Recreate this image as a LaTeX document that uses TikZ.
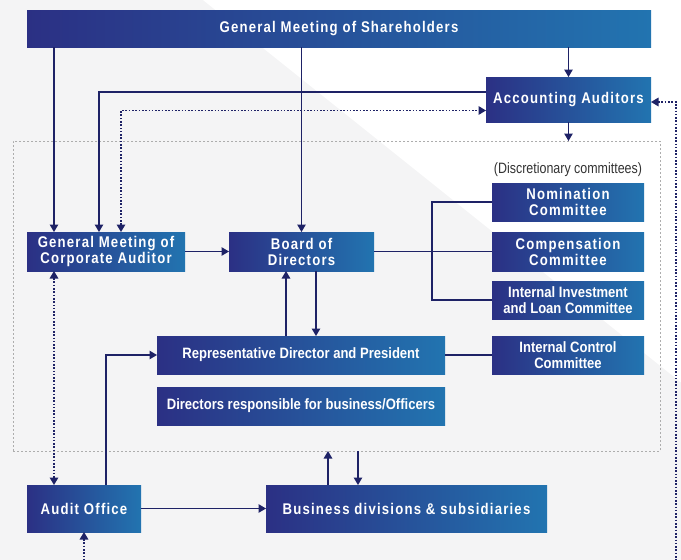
\documentclass[tikz,border=0pt]{standalone}
\usepackage{fontspec}
\setmainfont{Liberation Sans}
\newfontfamily\spfont{Liberation Sans}[FakeStretch=0.85,LetterSpace=7.7]
\newfontfamily\tgfont{Liberation Sans}[FakeStretch=0.87]
\newfontfamily\dcfont{Liberation Sans}[FakeStretch=0.83]
\usetikzlibrary{arrows.meta,calc}
\definecolor{boxL}{HTML}{2B3084}
\definecolor{boxR}{HTML}{2274B0}
\definecolor{navy}{HTML}{1E2266}
\definecolor{bggray}{HTML}{F4F4F5}
\definecolor{framec}{HTML}{ADADAD}
\definecolor{txtgray}{HTML}{333333}
\begin{document}
\begin{tikzpicture}[x=1pt,y=-1pt,
  box/.style={draw=none, left color=boxL, right color=boxR, text=white, align=center, inner sep=0pt, outer sep=0pt},
  spaced/.style={font=\spfont\bfseries\fontsize{15.5}{16}\selectfont},
  tight/.style={font=\tgfont\bfseries\fontsize{15}{15.5}\selectfont},
  conn/.style={draw=navy, line width=1.2pt},
  arr/.style={conn, -{Triangle[length=7.5pt,width=8.5pt]}},
  dotl/.style={draw=navy, line width=1.5pt, dash pattern=on 1.6pt off 1.7pt},
  darr/.style={dotl, {Triangle[length=7.5pt,width=8.5pt]}-{Triangle[length=7.5pt,width=8.5pt]}},
  dstart/.style={dotl, {Triangle[length=7.5pt,width=8.5pt]}-},
  grpbox/.style={draw=framec, line width=0.8pt, dash pattern=on 2pt off 2pt, inner sep=0pt, outer sep=0pt},
]
\fill[bggray] (0,0) rectangle (681,560);
\fill[white] (203,0) -- (681,0) -- (681,382.4) -- cycle;
\useasboundingbox (0,0) rectangle (681,560);

\node[grpbox, minimum width=647pt, minimum height=310pt] (grp) at (336.5,296) {};

\node[box, spaced, minimum width=624pt, minimum height=37pt] (gms) at (339,28.5) {General Meeting of Shareholders};
\node[box, spaced, minimum width=165pt, minimum height=45pt] (acc) at (568.5,99.5) {Accounting Auditors};
\node[box, spaced, minimum width=158pt, minimum height=39pt] (gmca) at (106,251.5) {General Meeting of\\Corporate Auditor};
\node[box, spaced, minimum width=145pt, minimum height=39pt] (bod) at (301.5,251.5) {Board of\\Directors};
\node[font=\dcfont\fontsize{15}{15.5}\selectfont, text=txtgray, inner sep=0pt] (disc) at (568,170) {(Discretionary committees)};
\node[box, spaced, minimum width=152pt, minimum height=38pt] (nom) at (568,202) {Nomination\\Committee};
\node[box, spaced, minimum width=152pt, minimum height=39pt] (comp) at (568,251.5) {Compensation\\Committee};
\node[box, tight, minimum width=152pt, minimum height=38pt] (iil) at (568,300) {Internal Investment\\and Loan Committee};
\node[box, tight, minimum width=152pt, minimum height=38pt] (icc) at (568,355) {Internal Control\\Committee};
\node[box, tight, minimum width=288pt, minimum height=38pt] (rep) at (301,355) {Representative Director and President};
\node[box, tight, minimum width=288pt, minimum height=38pt] (dir) at (301,406) {Directors responsible for business/Officers};
\node[box, spaced, minimum width=114pt, minimum height=47pt] (audit) at (84,508.5) {Audit Office};
\node[box, spaced, minimum width=281pt, minimum height=47pt] (bus) at (406.5,508.5) {Business divisions \& subsidiaries};

% coordinates
\coordinate (a1) at ([xshift=-52pt]gmca.north);
\coordinate (a2) at ([yshift=7.5pt]acc.west);
\coordinate (a3) at ([xshift=-7pt]gmca.north);
\coordinate (a4) at ([xshift=15pt]gmca.north);
\coordinate (a5) at ([yshift=-11pt]acc.west);
\coordinate (a6) at ([yshift=-2.5pt]acc.east);
\coordinate (a7) at (676,560);
\coordinate (a8) at (84,560);
\coordinate (j) at ([xshift=58pt]bod.east);
\coordinate (r1) at ([xshift=-15pt]rep.north);
\coordinate (r2) at ([xshift=15pt]rep.north);
\coordinate (u1) at ([xshift=22pt]audit.north);
\coordinate (b1) at ([xshift=-78.5pt]bus.north);
\coordinate (b2) at ([xshift=-48.5pt]bus.north);

% connectors
\draw[arr] (a1 |- gms.south) -- (a1);
\draw[arr] (gms.south -| bod.north) -- (bod.north);
\draw[arr] (gms.south -| acc.north) -- (acc.north);
\draw[arr] (acc.south) -- (acc.south |- grp.north);
\draw[arr] (a2) -| (a3);
\draw[darr] (a4) |- (a5);
\draw[dstart] (a6) -| (a7);
\draw[dstart] (audit.south) -- (a8);
\draw[darr] (a1 |- gmca.south) -- (a1 |- audit.north);
\draw[arr] (gmca.east) -- (gmca.east -| bod.west);
\draw[conn] (bod.east) -- (j);
\draw[conn] (nom.west) -| (j) |- (iil.west);
\draw[conn] (j) -- (comp.west);
\draw[arr] (r1) -- (r1 |- bod.south);
\draw[arr] (r2 |- bod.south) -- (r2);
\draw[conn] (rep.east) -- (icc.west);
\draw[arr] (u1) |- (rep.west);
\draw[arr] (audit.east) -- (bus.west);
\draw[arr] (b1) -- (b1 |- grp.south);
\draw[arr] (b2 |- grp.south) -- (b2);
\end{tikzpicture}
\end{document}
